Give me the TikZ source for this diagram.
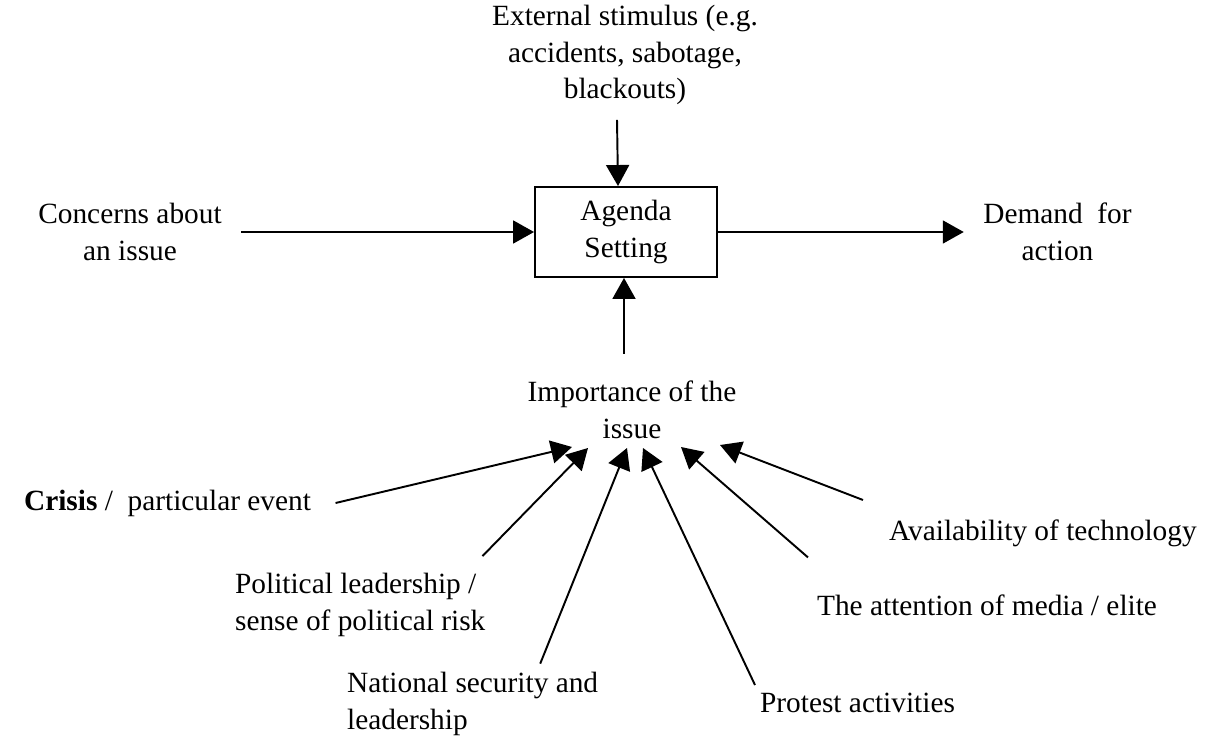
\documentclass[tikz,border=0pt]{standalone}
\usepackage{fontspec}
\setmainfont{Liberation Serif}
\usetikzlibrary{arrows.meta}

\tikzset{
  lbl/.style={inner sep=1pt, font=\fontsize{16.7}{21}\selectfont},
  arr/.style={line width=1.1pt, -{Triangle[length=0.42cm,width=0.46cm]}}
}

\begin{document}
\begin{tikzpicture}
\useasboundingbox (0,0) rectangle (24.26,14.8);

\node[lbl, align=center] (stimulus) at (12.5, 13.7) {External stimulus (e.g.\\accidents, sabotage,\\blackouts)};
\node[lbl, draw, line width=1.1pt, minimum width=3.64cm, minimum height=1.8cm, align=center] (agenda) at (12.52, 10.16) {Agenda\\Setting};
\node[lbl, align=center] (concerns) at (2.6, 10.16) {Concerns about\\an issue};
\node[lbl, align=center] (demand) at (21.15, 10.16) {Demand~~for\\action};
\node[lbl, align=center] (importance) at (12.64, 6.6) {Importance of the\\issue};

\node[lbl, anchor=west] (crisis) at (0.44, 4.74) {\textbf{Crisis} /~ particular event};
\node[lbl, anchor=west, align=left] (political) at (4.66, 2.7) {Political leadership /\\sense of political risk};
\node[lbl, anchor=west, align=left] (national) at (6.9, 0.72) {National security and\\leadership};
\node[lbl, anchor=west] (protest) at (15.16, 0.74) {Protest activities};
\node[lbl, anchor=west] (media) at (16.3, 2.7) {The attention of media / elite};
\node[lbl, anchor=west] (tech) at (17.74, 4.14) {Availability of technology};

% arrow tips under "issue"
\coordinate (tipCrisis) at (11.44, 5.86);
\coordinate (tipPolitical) at (11.76, 5.84);
\coordinate (tipNational) at (12.54, 5.84);
\coordinate (tipProtest) at (12.86, 5.84);
\coordinate (tipMedia) at (13.62, 5.86);
\coordinate (tipTech) at (14.4, 5.9);

\draw[arr] ([shift={(-0.16,-0.25)}]stimulus.south) -- ([xshift=-0.16cm]agenda.north);
\draw[arr, shorten <=0.35cm] (concerns.east) -- (agenda.west);
\draw[arr, shorten >=0.35cm] (agenda.east) -- (demand.west);
\draw[arr] ([shift={(-0.16,0.5)}]importance.north) -- ([xshift=-0.04cm]agenda.south);

\draw[arr] ([xshift=0.45cm]crisis.east) -- (tipCrisis);
\draw[arr] ([shift={(-0.1,0.3)}]political.north east) -- (tipPolitical);
\draw[arr] ([shift={(-1.2,0.13)}]national.north east) -- (tipNational);
\draw[arr] ([shift={(-0.06,0.12)}]protest.north west) -- (tipProtest);
\draw[arr] ([shift={(-0.14,0.7)}]media.north west) -- (tipMedia);
\draw[arr] ([shift={(-0.48,0.66)}]tech.west) -- (tipTech);

\end{tikzpicture}
\end{document}
